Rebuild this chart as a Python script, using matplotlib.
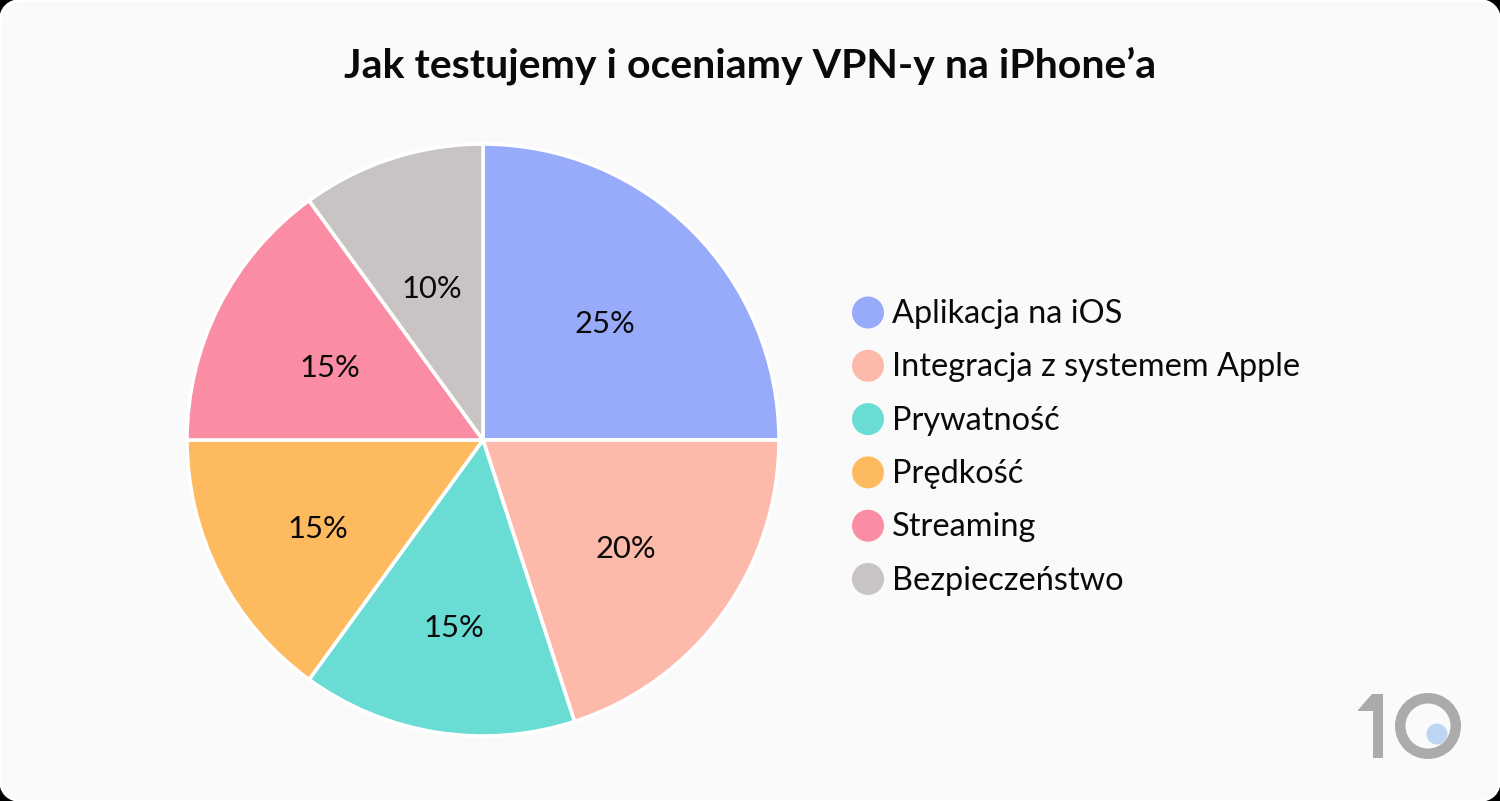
import numpy as np
import matplotlib
matplotlib.use('Agg')
import matplotlib.pyplot as plt
from matplotlib.patches import FancyBboxPatch, Circle, Wedge, Polygon

plt.rcParams['font.family'] = ['Lato', 'DejaVu Sans']

title = 'Jak testujemy i oceniamy VPN-y na iPhone\u2019a'
categories = ['Aplikacja na iOS', 'Integracja z systemem Apple', 'Prywatno\u015b\u0107',
              'Pr\u0119dko\u015b\u0107', 'Streaming', 'Bezpiecze\u0144stwo']
values = [25, 20, 15, 15, 15, 10]
colors = ['#98ABFA', '#FDB9A9', '#69DCD3', '#FDBA5E', '#FA8DA3', '#C8C4C3']
label_radius = [0.58, 0.595, 0.625, 0.625, 0.58, 0.555]

W, H = 1500, 801
fig = plt.figure(figsize=(W / 100, H / 100), dpi=100, facecolor='black')

# whole figure in pixel coordinates, y pointing down
bg = fig.add_axes([0, 0, 1, 1])
bg.set_xlim(0, W)
bg.set_ylim(H, 0)
bg.axis('off')
bg.add_patch(FancyBboxPatch((0, 0), W, H, boxstyle='round,pad=0,rounding_size=24',
                            fc='#FAFAFA', ec='#FFFFFF', lw=2, clip_on=False))

bg.text(750, 66, title, ha='center', va='center', fontsize=29.5, fontweight='bold', color='#0A0A0A')

# pie
cx, cy, r = 483, 440, 296
pie_ax = fig.add_axes([(cx - r) / W, 1 - (cy + r) / H, 2 * r / W, 2 * r / H])
wedges, _ = pie_ax.pie(values, colors=colors, startangle=90, counterclock=False, radius=1,
                       wedgeprops={'edgecolor': '#FFFFFF', 'linewidth': 2.6})
pie_ax.set_xlim(-1, 1)
pie_ax.set_ylim(-1, 1)
pie_ax.set_aspect('equal')
for w, v, lr in zip(wedges, values, label_radius):
    a = np.deg2rad((w.theta1 + w.theta2) / 2)
    # small nudge down, center_baseline sits a bit high
    pie_ax.text(lr * np.cos(a), lr * np.sin(a) - 0.01, '{}%'.format(v), ha='center', va='center_baseline',
                fontsize=22.2, color='#0A0A0A')

# legend
ly = 312.5
for i, (c, lab) in enumerate(zip(colors, categories)):
    y = ly + i * 53.3
    bg.add_patch(Circle((868, y), 16, fc=c, ec='none'))
    bg.text(892, y + 10.5, lab, ha='left', va='baseline', fontsize=23.4, color='#0A0A0A')

# logo
grey = '#ABABAB'
bg.add_patch(Polygon([(1372, 694), (1383, 694), (1383, 758), (1373, 758), (1373, 711),
                      (1358, 711), (1358, 710)], fc=grey, ec='none'))
bg.add_patch(Wedge((1428, 726), 33, 0, 360, width=10.5, fc=grey, ec='none'))
bg.add_patch(Circle((1437, 734), 10.5, fc='#BDD7F2', ec='none'))

fig.savefig('out.png', dpi=100, facecolor=fig.get_facecolor())
